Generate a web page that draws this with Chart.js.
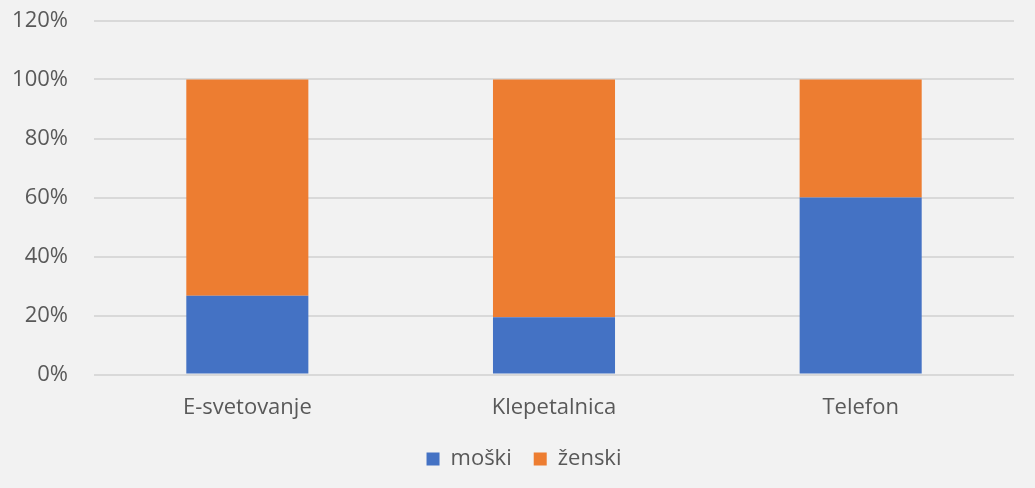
<!DOCTYPE html>
<html>
<head>
<meta charset="utf-8">
<script src="https://cdn.jsdelivr.net/npm/chart.js@4"></script>
<style>
  html, body { margin: 0; padding: 0; background: #f2f2f2; }
  #wrap { width: 1035px; height: 488px; }
</style>
</head>
<body>
<div id="wrap"><canvas id="c" width="1035" height="488"></canvas></div>
<script>
const categories = ["E-svetovanje", "Klepetalnica", "Telefon"];
const moski = [26.7, 19.4, 60];
const zenski = [73.3, 80.6, 40];
const seriesNames = ["moški", "ženski"];
const yTicks = [0, 20, 40, 60, 80, 100, 120];

const FONT = "'Open Sans', 'Noto Sans', sans-serif";

const legendShift = {
  id: 'legendShift',
  afterLayout(chart) {
    if (chart.legend) { chart.legend.left += 17; chart.legend.right += 17; }
  }
};

new Chart(document.getElementById('c'), {
  type: 'bar',
  data: {
    labels: categories,
    datasets: [
      { label: seriesNames[0], data: moski, backgroundColor: '#4472c4', borderWidth: 0 },
      { label: seriesNames[1], data: zenski, backgroundColor: '#ed7d31', borderWidth: 0 }
    ]
  },
  plugins: [legendShift],
  options: {
    responsive: false,
    animation: false,
    devicePixelRatio: 1,
    layout: { padding: { left: 0, right: 21, top: 0, bottom: 8 } },
    datasets: { bar: { categoryPercentage: 1, barPercentage: 0.398 } },
    plugins: {
      legend: {
        position: 'bottom',
        labels: {
          color: '#595959',
          font: { family: FONT, size: 22 },
          boxWidth: 13,
          boxHeight: 13,
          padding: 22
        }
      },
      tooltip: { enabled: false }
    },
    scales: {
      x: {
        stacked: true,
        grid: { display: false, drawTicks: false },
        border: { display: false },
        afterFit: (s) => { s.height = 51.5; },
        ticks: { color: '#595959', font: { family: FONT, size: 22 }, padding: 20.5 }
      },
      y: {
        stacked: true,
        min: 0,
        max: 120,
        afterBuildTicks: (s) => { s.ticks = yTicks.map(v => ({ value: v })); },
        afterFit: (s) => { s.width = 94; s.paddingTop = 20.5; s.paddingBottom = 0; },
        grid: { color: '#d9d9d9', lineWidth: 2, drawTicks: false },
        border: { display: false },
        ticks: {
          color: '#595959',
          font: { family: FONT, size: 22 },
          padding: 26,
          callback: (v) => v + '%'
        }
      }
    }
  }
});
</script>
</body>
</html>
